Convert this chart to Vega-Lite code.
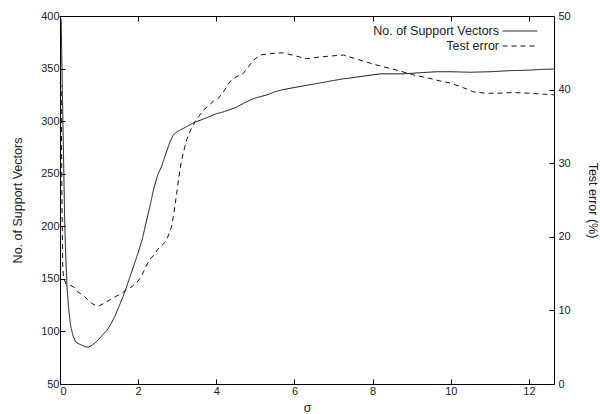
{
  "$schema": "https://vega.github.io/schema/vega-lite/v6.json",
  "width": 494,
  "height": 368,
  "autosize": {"type": "none"},
  "padding": {"left": 60, "top": 16, "right": 46, "bottom": 30},
  "background": "white",
  "config": {
    "view": {"stroke": null},
    "font": "Liberation Sans",
    "axis": {
      "grid": false,
      "domainColor": "#000",
      "tickColor": "#000",
      "labelColor": "#222",
      "titleColor": "#222",
      "labelFont": "Liberation Sans",
      "labelFontSize": 11,
      "titleFont": "Liberation Sans",
      "titleFontSize": 12.5,
      "titleFontWeight": "normal",
      "tickSize": -5,
      "labelPadding": 6
    }
  },
  "datasets": {
    "sv": [
      {"sigma": 0, "sv": 400}, {"sigma": 0.03, "sv": 396}, {"sigma": 0.06, "sv": 330}, {"sigma": 0.09, "sv": 268},
      {"sigma": 0.12, "sv": 205}, {"sigma": 0.15, "sv": 168}, {"sigma": 0.18, "sv": 142}, {"sigma": 0.22, "sv": 122},
      {"sigma": 0.27, "sv": 106}, {"sigma": 0.33, "sv": 96}, {"sigma": 0.4, "sv": 90}, {"sigma": 0.47, "sv": 88.5},
      {"sigma": 0.55, "sv": 87}, {"sigma": 0.65, "sv": 85.5}, {"sigma": 0.72, "sv": 85}, {"sigma": 0.8, "sv": 86.5},
      {"sigma": 0.9, "sv": 89}, {"sigma": 1.0, "sv": 93}, {"sigma": 1.1, "sv": 97}, {"sigma": 1.2, "sv": 101},
      {"sigma": 1.3, "sv": 107}, {"sigma": 1.4, "sv": 114}, {"sigma": 1.5, "sv": 123}, {"sigma": 1.6, "sv": 132},
      {"sigma": 1.7, "sv": 142}, {"sigma": 1.8, "sv": 153}, {"sigma": 1.9, "sv": 164}, {"sigma": 2.0, "sv": 175},
      {"sigma": 2.1, "sv": 187}, {"sigma": 2.2, "sv": 203}, {"sigma": 2.3, "sv": 219}, {"sigma": 2.4, "sv": 236},
      {"sigma": 2.5, "sv": 249}, {"sigma": 2.6, "sv": 257}, {"sigma": 2.7, "sv": 268}, {"sigma": 2.8, "sv": 279},
      {"sigma": 2.9, "sv": 287}, {"sigma": 3.0, "sv": 290}, {"sigma": 3.1, "sv": 292}, {"sigma": 3.2, "sv": 294},
      {"sigma": 3.3, "sv": 296}, {"sigma": 3.45, "sv": 299}, {"sigma": 3.6, "sv": 301}, {"sigma": 3.8, "sv": 304},
      {"sigma": 4.0, "sv": 307}, {"sigma": 4.2, "sv": 309}, {"sigma": 4.35, "sv": 311}, {"sigma": 4.5, "sv": 313},
      {"sigma": 4.7, "sv": 317}, {"sigma": 4.86, "sv": 320}, {"sigma": 5.0, "sv": 322}, {"sigma": 5.3, "sv": 325},
      {"sigma": 5.5, "sv": 328}, {"sigma": 5.71, "sv": 330}, {"sigma": 6.0, "sv": 332}, {"sigma": 6.3, "sv": 334},
      {"sigma": 6.6, "sv": 336}, {"sigma": 6.9, "sv": 338}, {"sigma": 7.2, "sv": 340}, {"sigma": 7.42, "sv": 341},
      {"sigma": 7.8, "sv": 343}, {"sigma": 8.2, "sv": 345}, {"sigma": 8.5, "sv": 345}, {"sigma": 8.8, "sv": 345},
      {"sigma": 9.2, "sv": 346}, {"sigma": 9.64, "sv": 347}, {"sigma": 10.0, "sv": 347}, {"sigma": 10.5, "sv": 346.5},
      {"sigma": 11.0, "sv": 347}, {"sigma": 11.5, "sv": 348}, {"sigma": 12.0, "sv": 348.5}, {"sigma": 12.36, "sv": 349.3},
      {"sigma": 12.64, "sv": 349.5}
    ],
    "err": [
      {"sigma": 0, "err": 41}, {"sigma": 0.03, "err": 40.4}, {"sigma": 0.05, "err": 25}, {"sigma": 0.07, "err": 16},
      {"sigma": 0.09, "err": 14.5}, {"sigma": 0.15, "err": 13.6}, {"sigma": 0.26, "err": 13.4}, {"sigma": 0.35, "err": 13.2},
      {"sigma": 0.43, "err": 12.6}, {"sigma": 0.52, "err": 12.3}, {"sigma": 0.6, "err": 12.0}, {"sigma": 0.7, "err": 11.5},
      {"sigma": 0.8, "err": 11.0}, {"sigma": 0.9, "err": 10.7}, {"sigma": 1.0, "err": 10.6}, {"sigma": 1.1, "err": 10.9},
      {"sigma": 1.2, "err": 11.2}, {"sigma": 1.3, "err": 11.5}, {"sigma": 1.4, "err": 11.8}, {"sigma": 1.5, "err": 12.1},
      {"sigma": 1.6, "err": 12.4}, {"sigma": 1.7, "err": 12.8}, {"sigma": 1.8, "err": 13.1}, {"sigma": 1.9, "err": 13.5},
      {"sigma": 2.0, "err": 14.0}, {"sigma": 2.1, "err": 14.8}, {"sigma": 2.2, "err": 16.0}, {"sigma": 2.3, "err": 16.9},
      {"sigma": 2.4, "err": 17.5}, {"sigma": 2.5, "err": 18.3}, {"sigma": 2.6, "err": 18.8}, {"sigma": 2.7, "err": 19.3},
      {"sigma": 2.8, "err": 20.5}, {"sigma": 2.86, "err": 21.5}, {"sigma": 2.94, "err": 24.1}, {"sigma": 3.03, "err": 27.7},
      {"sigma": 3.11, "err": 30.4}, {"sigma": 3.24, "err": 33.2}, {"sigma": 3.35, "err": 34.6}, {"sigma": 3.45, "err": 35.6},
      {"sigma": 3.67, "err": 37.2}, {"sigma": 3.92, "err": 38.4}, {"sigma": 4.05, "err": 38.8}, {"sigma": 4.18, "err": 39.7},
      {"sigma": 4.35, "err": 41.1}, {"sigma": 4.5, "err": 41.7}, {"sigma": 4.69, "err": 42.2}, {"sigma": 4.85, "err": 43.3},
      {"sigma": 4.95, "err": 44.0}, {"sigma": 5.12, "err": 44.7}, {"sigma": 5.4, "err": 44.9}, {"sigma": 5.71, "err": 45.0},
      {"sigma": 6.0, "err": 44.6}, {"sigma": 6.31, "err": 44.2}, {"sigma": 6.6, "err": 44.4}, {"sigma": 7.0, "err": 44.6},
      {"sigma": 7.25, "err": 44.7}, {"sigma": 7.5, "err": 44.3}, {"sigma": 7.93, "err": 43.6}, {"sigma": 8.2, "err": 43.2},
      {"sigma": 8.5, "err": 42.8}, {"sigma": 8.78, "err": 42.4}, {"sigma": 9.04, "err": 42.0}, {"sigma": 9.4, "err": 41.6},
      {"sigma": 9.7, "err": 41.2}, {"sigma": 9.98, "err": 40.9}, {"sigma": 10.3, "err": 40.3}, {"sigma": 10.58, "err": 39.7},
      {"sigma": 10.9, "err": 39.5}, {"sigma": 11.17, "err": 39.5}, {"sigma": 11.6, "err": 39.6}, {"sigma": 12.03, "err": 39.5},
      {"sigma": 12.3, "err": 39.4}, {"sigma": 12.64, "err": 39.3}
    ]
  },
  "layer": [
    {
      "data": {"name": "sv"},
      "mark": {"type": "line", "color": "#111", "strokeWidth": 1},
      "encoding": {
        "x": {"field": "sigma", "type": "quantitative", "scale": {"domain": [0, 12.64], "nice": false},
              "axis": {"orient": "bottom", "values": [0, 2, 4, 6, 8, 10, 12], "title": "σ", "titlePadding": 5}},
        "y": {"field": "sv", "type": "quantitative", "scale": {"domain": [50, 400], "nice": false, "zero": false},
              "axis": {"orient": "left", "values": [50, 100, 150, 200, 250, 300, 350, 400], "title": "No. of Support Vectors", "titlePadding": 16}},
        "strokeDash": {"datum": "No. of Support Vectors", "scale": {"range": [[1, 0]]},
          "legend": {"orient": "none", "legendX": 442, "legendY": -3, "title": null, "labelAlign": "right", "labelOffset": -39,
                     "symbolSize": 1225, "symbolStrokeWidth": 1, "symbolType": "stroke", "symbolStrokeColor": "#111",
                     "labelFontSize": 12.5, "labelFont": "Liberation Sans", "labelColor": "#222", "padding": 0}}
      }
    },
    {
      "data": {"name": "err"},
      "mark": {"type": "line", "color": "#111", "strokeWidth": 1},
      "encoding": {
        "x": {"field": "sigma", "type": "quantitative", "scale": {"domain": [0, 12.64], "nice": false},
              "axis": {"orient": "top", "values": [0, 2, 4, 6, 8, 10, 12], "labels": false, "title": null}},
        "y": {"field": "err", "type": "quantitative", "scale": {"domain": [0, 50], "nice": false},
              "axis": {"orient": "right", "values": [0, 10, 20, 30, 40, 50], "title": "Test error (%)", "titlePadding": 15, "labelPadding": 9}},
        "strokeDash": {"datum": "Test error", "scale": {"range": [[5, 4]]},
          "legend": {"orient": "none", "legendX": 442, "legendY": 12, "title": null, "labelAlign": "right", "labelOffset": -39,
                     "symbolSize": 1225, "symbolStrokeWidth": 1, "symbolType": "stroke", "symbolStrokeColor": "#111",
                     "labelFontSize": 12.5, "labelFont": "Liberation Sans", "labelColor": "#222", "padding": 0}}
      }
    }
  ],
  "resolve": {
    "scale": {"y": "independent", "strokeDash": "independent"},
    "axis": {"x": "independent", "y": "independent"},
    "legend": {"strokeDash": "independent"}
  }
}
